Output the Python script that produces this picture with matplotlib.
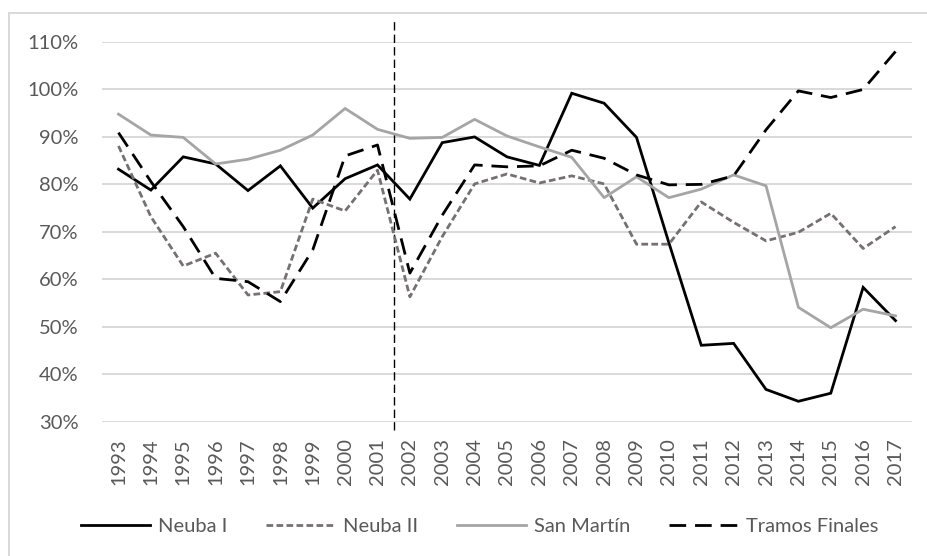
import matplotlib
matplotlib.use("Agg")
import matplotlib.pyplot as plt
from matplotlib.lines import Line2D

plt.rcParams['font.family'] = ['Lato', 'DejaVu Sans']

years = [str(y) for y in range(1993, 2018)]

neuba_1 = [83.2, 78.8, 85.8, 84.3, 78.7, 83.9, 75.0, 81.2, 84.1, 76.9, 88.8,
           90.0, 85.8, 84.0, 99.2, 97.1, 89.9, 67.7, 46.1, 46.5, 36.8, 34.3,
           36.0, 58.3, 51.3]
neuba_2 = [88.1, 73.2, 62.8, 65.5, 56.7, 57.4, 76.9, 74.4, 83.0, 56.3, 69.0,
           80.1, 82.2, 80.3, 81.8, 80.1, 67.4, 67.4, 76.3, 72.0, 68.1, 69.9,
           73.9, 66.5, 71.1]
san_martin = [94.8, 90.4, 89.9, 84.3, 85.3, 87.2, 90.4, 96.0, 91.6, 89.7, 89.9,
              93.7, 90.2, 87.9, 85.7, 77.2, 81.6, 77.2, 79.0, 82.0, 79.7, 54.1,
              49.8, 53.7, 52.3]
tramos_finales = [90.9, 80.6, 71.1, 60.2, 59.5, 55.3, 66.2, 86.0, 88.3, 61.3,
                  73.5, 84.1, 83.7, 83.9, 87.2, 85.5, 82.0, 79.9, 80.0, 81.8,
                  91.5, 99.7, 98.3, 100.0, 108.0]

series_names = ["Neuba I", "Neuba II", "San Martín", "Tramos Finales"]
y_ticks = [30, 40, 50, 60, 70, 80, 90, 100, 110]

text_color = "#595959"
grid_color = "#D9D9D9"

fig = plt.figure(figsize=(9.28, 5.56), dpi=100)
ax = fig.add_axes([102.3 / 928, 1 - 421.7 / 556, 809.4 / 928, (421.7 - 42) / 556])

x = list(range(len(years)))
lw = 2.0
ax.plot(x, neuba_1, color="black", lw=lw, solid_joinstyle="miter", label=series_names[0])
ax.plot(x, neuba_2, color="#767171", lw=lw, dashes=(2.4, 1.2), label=series_names[1])
ax.plot(x, san_martin, color="#A5A5A5", lw=lw, label=series_names[2])
ax.plot(x, tramos_finales, color="black", lw=lw, dashes=(6.0, 3.2), label=series_names[3])

# vertical break marker between 2001 and 2002
ax.plot([8.5, 8.5], [28.2, 115.0], color="black", lw=1.0, dashes=(6.0, 3.0),
        clip_on=False, zorder=1)

ax.set_xlim(-0.5, len(years) - 0.5)
ax.set_ylim(30, 110)
ax.set_yticks(y_ticks)
ax.set_yticklabels([f"{v}%" for v in y_ticks])
ax.set_xticks(x)
ax.set_xticklabels(years, rotation=90)
ax.tick_params(axis="both", length=0, labelsize=14.5, colors=text_color)
ax.tick_params(axis="y", pad=17)
ax.tick_params(axis="x", pad=12)
ax.grid(axis="y", color=grid_color, lw=1.4)
ax.set_axisbelow(True)
for s in ax.spines.values():
    s.set_visible(False)

# chart area border (left and top edges)
fig.add_artist(Line2D([9.5 / 928, 9.5 / 928], [0, 1 - 13 / 556], color=grid_color, lw=1.4,
                      transform=fig.transFigure))
fig.add_artist(Line2D([9.5 / 928, 1], [1 - 13 / 556, 1 - 13 / 556], color=grid_color, lw=1.4,
                      transform=fig.transFigure))

leg = fig.legend(loc="center", bbox_to_anchor=(0.517, 1 - 526.7 / 556), ncol=4,
                 frameon=False, fontsize=14.5, handlelength=3.4, handletextpad=0.4,
                 columnspacing=1.95, labelcolor=text_color)

fig.savefig("out.png", dpi=100)
